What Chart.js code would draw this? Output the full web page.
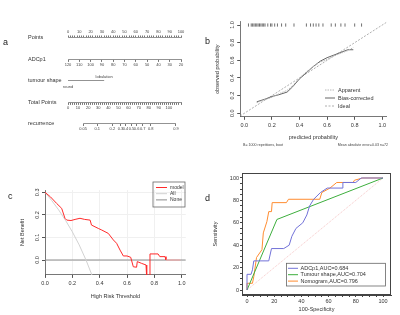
<!DOCTYPE html>
<html>
<head>
<meta charset="utf-8">
<title>Nomogram, calibration, decision curve and ROC</title>
<script src="https://cdn.jsdelivr.net/npm/chart.js@4.4.1/dist/chart.umd.min.js"></script>
<style>
  body { margin:0; background:#fff; width:400px; height:315px; position:relative; overflow:hidden; font-family:'Liberation Sans', Arial, sans-serif; }
  canvas { position:absolute; }
  .tag { position:absolute; font-size:9px; color:#222; line-height:9px; }
  .note { position:absolute; font-size:3.6px; color:#444; white-space:nowrap; line-height:4px; }
</style>
</head>
<body>
<canvas id="nomo" width="200" height="150" style="left:0;top:0"></canvas>
<canvas id="calib" width="200" height="150" style="left:200px;top:0"></canvas>
<canvas id="dca" width="200" height="165" style="left:0;top:150px"></canvas>
<canvas id="roc" width="200" height="165" style="left:200px;top:150px"></canvas>
<div class="tag" style="left:3px;top:38px">a</div>
<div class="tag" style="left:205px;top:37px">b</div>
<div class="tag" style="left:8px;top:192px">c</div>
<div class="tag" style="left:205px;top:194px">d</div>
<div class="note" style="left:243px;top:143px">B= 1000 repetitions, boot</div>
<div class="note" style="right:12px;top:143px">Mean absolute error=0.03 n=72</div>
<script>
// ---- a: nomogram ----
var rowNames = ['Points', 'ADCp1', 'tumour shape', 'Total Points', 'recurrence'];
var pointsLabels = [0, 10, 20, 30, 40, 50, 60, 70, 80, 90, 100];
var adcLabels = [120, 110, 100, 90, 80, 70, 60, 50, 40, 30, 20];
var shapeLevels = ['round', 'lobulation'];
var shapePoints = [0, 32];
var totalLabels = [0, 10, 20, 30, 40, 50, 60, 70, 80, 90, 100];
var totalMax = 112;
var recurrenceLabels = ['0.05', '0.1', '0.2', '0.3', '0.4', '0.5', '0.6', '0.7', '0.8', '0.9'];
var recurrencePoints = [15, 29, 44, 52, 57, 63, 68, 74, 82, 107];

// ---- b: calibration ----
var calibPred = [0.09, 0.15, 0.2, 0.25, 0.31, 0.35, 0.4, 0.45, 0.5, 0.55, 0.6, 0.65, 0.7, 0.75, 0.79];
var biasObs = [0.13, 0.16, 0.19, 0.21, 0.24, 0.3, 0.39, 0.46, 0.53, 0.59, 0.63, 0.66, 0.69, 0.72, 0.72];
var apparentObs = [0.12, 0.155, 0.18, 0.22, 0.26, 0.31, 0.4, 0.47, 0.53, 0.58, 0.61, 0.65, 0.68, 0.71, 0.745];
var rugPred = [0.03, 0.05, 0.06, 0.07, 0.08, 0.09, 0.1, 0.11, 0.12, 0.13, 0.14, 0.15, 0.17, 0.19, 0.2, 0.22, 0.24,
               0.27, 0.3, 0.36, 0.45, 0.48, 0.5, 0.52, 0.54, 0.57, 0.63, 0.66, 0.7, 0.73, 0.8, 0.85];

// ---- c: decision curve ----
var dcaThreshold = [0, 0.04, 0.085, 0.122, 0.146, 0.159, 0.19, 0.22, 0.256, 0.29, 0.33, 0.34, 0.39, 0.415, 0.463, 0.5, 0.524,
                    0.549, 0.573, 0.6, 0.627, 0.646, 0.67, 0.675, 0.707, 0.739, 0.744, 0.766, 0.768, 0.827, 0.84, 0.878, 0.885, 0.99];
var dcaModel = [0.3, 0.28, 0.251, 0.229, 0.185, 0.177, 0.175, 0.18, 0.185, 0.18, 0.177, 0.155, 0.14, 0.133, 0.118, 0.089, 0.074,
                0.044, 0.018, 0.018, 0.012, -0.03, -0.032, -0.007, -0.015, -0.022, -0.08, -0.08, 0.027, 0.027, 0.015, 0.015, 0, 0];
var allThreshold = [0, 0.05, 0.1, 0.15, 0.2, 0.25, 0.3, 0.35];
var allBenefit = [0.3, 0.263, 0.222, 0.176, 0.125, 0.067, 0, -0.077];

// ---- d: ROC ----
var adcFpr = [0, 0, 3, 4, 5, 16, 18, 27, 31, 33, 36, 41, 44, 46, 49, 54, 59, 70.5, 70.5, 80, 84, 100];
var adcTpr = [0, 14, 14, 18, 26, 26, 37, 37, 40, 48, 55, 60, 67, 75, 81, 87, 91, 91, 96, 96, 100, 100];
var shapeFpr = [0, 22, 100];
var shapeTpr = [0, 63, 100];
var nomoFpr = [0, 0, 4, 5, 7, 11, 12, 14.6, 16, 18, 18.5, 29, 30.5, 53.5, 55, 61, 66, 78, 79, 85, 100];
var nomoTpr = [0, 6, 6, 12, 29, 36, 51, 61, 70, 70, 78, 78, 81, 81, 87, 91, 96, 96, 98, 100, 100];
var rocNames = ['ADCp1,AUC=0.684', 'Tumour shape,AUC=0.704', 'Nomogram,AUC=0.796'];

Chart.defaults.font.family = "'Liberation Sans', Arial, sans-serif";
Chart.defaults.color = '#333';
Chart.defaults.animation = false;
Chart.defaults.events = [];
Chart.defaults.plugins.legend.display = false;
Chart.defaults.plugins.tooltip.enabled = false;

function xy(xs, ys) { return xs.map(function (x, i) { return {x: x, y: ys[i]}; }); }
function fixedTicks(values) { return function (s) { s.ticks = values.map(function (v) { return {value: v}; }); }; }
function range(a, b, step) { var r = []; for (var v = a; v <= b + 1e-9; v += step) r.push(+v.toFixed(4)); return r; }

function legendBox(cfg) {
  return {
    id: 'legendBox',
    afterDraw: function (chart) {
      var ctx = chart.ctx;
      ctx.save();
      if (cfg.box) {
        ctx.strokeStyle = cfg.boxColor; ctx.lineWidth = 0.8;
        ctx.strokeRect(cfg.box[0], cfg.box[1], cfg.box[2], cfg.box[3]);
      }
      ctx.font = cfg.font + "px 'Liberation Sans', Arial";
      ctx.textBaseline = 'middle';
      cfg.items.forEach(function (di, k) {
        var ds = chart.data.datasets[di];
        var y = cfg.y + k * cfg.dy;
        ctx.strokeStyle = ds.legendColor || ds.borderColor;
        ctx.lineWidth = ds.borderWidth;
        ctx.setLineDash(ds.borderDash || []);
        ctx.beginPath(); ctx.moveTo(cfg.x, y); ctx.lineTo(cfg.x + cfg.len, y); ctx.stroke();
        ctx.setLineDash([]);
        ctx.fillStyle = '#333';
        ctx.fillText(ds.label, cfg.x + cfg.len + cfg.gap, y);
      });
      ctx.restore();
    }
  };
}

// nomogram: every row is its own x scale hung on a category y scale
function nomoAxis(extra) {
  var base = {
    axis: 'x', type: 'linear',
    ticks: { autoSkip: false, maxRotation: 0, minRotation: 0, font: {size: 4}, color: '#444', padding: 1 },
    grid: { drawOnChartArea: false, tickLength: 2, color: '#777' },
    border: { color: '#777', width: 0.8 }
  };
  return Object.assign(base, extra);
}

var shapeText = {
  id: 'shapeText',
  afterDatasetsDraw: function (chart) {
    var ctx = chart.ctx, xs = chart.scales.xPts, ys = chart.scales.y;
    var row = ys.getPixelForValue(rowNames.indexOf('tumour shape'));
    ctx.save();
    ctx.font = "4px 'Liberation Sans', Arial";
    ctx.fillStyle = '#444'; ctx.textAlign = 'center'; ctx.textBaseline = 'middle';
    shapeLevels.forEach(function (name, i) {
      ctx.fillText(name, xs.getPixelForValue(shapePoints[i]), row + (i % 2 === 0 ? 6 : -4));
    });
    ctx.restore();
  }
};

new Chart(document.getElementById('nomo'), {
  type: 'scatter',
  data: {
    datasets: [
      { data: shapePoints.map(function (p) { return {x: p, y: 'tumour shape'}; }), xAxisID: 'xPts', yAxisID: 'y',
        showLine: true, borderColor: '#777', borderWidth: 0.8, pointRadius: 0 },
      { data: [{x: recurrencePoints[0], y: 'recurrence'}, {x: recurrencePoints[recurrencePoints.length - 1], y: 'recurrence'}],
        xAxisID: 'xRec', yAxisID: 'y', showLine: true, borderColor: '#777', borderWidth: 0.8, pointRadius: 0 }
    ]
  },
  options: {
    responsive: false,
    layout: { padding: { left: 28, right: 19, top: 27.5, bottom: 26.5 } },
    scales: {
      y: { type: 'category', labels: rowNames, offset: false,
           grid: { display: false }, border: { display: false },
           ticks: { crossAlign: 'far', font: {size: 5.5}, color: '#333', padding: 0 },
           afterFit: function (s) { s.width = 40; } },
      xPts: nomoAxis({ position: 'top', min: 0, max: 100,
           afterBuildTicks: fixedTicks(range(0, 100, 2)),
           afterFit: function (s) { s.height = 10; },
           ticks: { autoSkip: false, maxRotation: 0, minRotation: 0, font: {size: 4}, color: '#444', padding: 1,
                    callback: function (v) { return pointsLabels.indexOf(v) >= 0 ? String(v) : ''; } } }),
      xAdc: nomoAxis({ position: {y: 'ADCp1'}, min: 20, max: 120, reverse: true,
           afterBuildTicks: fixedTicks(adcLabels) }),
      xTot: nomoAxis({ position: {y: 'Total Points'}, min: 0, max: totalMax,
           afterBuildTicks: fixedTicks(range(0, 112, 2)),
           ticks: { autoSkip: false, maxRotation: 0, minRotation: 0, font: {size: 4}, color: '#444', padding: 1,
                    callback: function (v) { return totalLabels.indexOf(v) >= 0 ? String(v) : ''; } } }),
      xRec: nomoAxis({ position: {y: 'recurrence'}, min: 0, max: totalMax,
           afterBuildTicks: fixedTicks(recurrencePoints),
           border: { display: false },
           ticks: { autoSkip: false, maxRotation: 0, minRotation: 0, font: {size: 4}, color: '#444', padding: 1,
                    callback: function (v, i) { return recurrenceLabels[i]; } } })
    }
  },
  plugins: [shapeText]
});

// calibration curve
new Chart(document.getElementById('calib'), {
  type: 'scatter',
  data: {
    datasets: [
      { label: 'Apparent', data: xy(calibPred, apparentObs), showLine: true, borderColor: '#b8b8b8', borderWidth: 1,
        borderDash: [1.5, 1], pointRadius: 0 },
      { label: 'Bias-corrected', data: xy(calibPred, biasObs), showLine: true, borderColor: '#555', borderWidth: 0.9, pointRadius: 0 },
      { label: 'Ideal', data: [{x: -0.03, y: -0.03}, {x: 1.03, y: 1.03}], showLine: true, borderColor: '#9a9a9a', borderWidth: 0.8,
        borderDash: [2, 1.5], pointRadius: 0 },
      { label: 'rug', data: rugPred.map(function (p) { return {x: p, y: 1.0}; }), pointStyle: 'line', rotation: 90,
        pointRadius: 1.6, borderColor: '#333', borderWidth: 0.7 }
    ]
  },
  options: {
    responsive: false,
    layout: { padding: { left: 0, right: 13.6, top: 21.5, bottom: 0 } },
    scales: {
      x: { min: -0.03, max: 1.03, afterBuildTicks: fixedTicks([0, 0.2, 0.4, 0.6, 0.8, 1.0]),
           afterFit: function (s) { s.height = 33.2; },
           grid: { drawOnChartArea: false, tickLength: 3, color: '#555' }, border: { color: '#555', width: 0.8 },
           ticks: { font: {size: 5.5}, padding: 2, maxRotation: 0, callback: function (v) { return v.toFixed(1); } },
           title: { display: true, text: 'predicted probability', font: {size: 5.5}, color: '#333', padding: {top: 0, bottom: 9.4} } },
      y: { min: -0.04, max: 1.04, afterBuildTicks: fixedTicks([0, 0.2, 0.4, 0.6, 0.8, 1.0]),
           afterFit: function (s) { s.width = 40.2; },
           grid: { drawOnChartArea: false, tickLength: 3, color: '#555' }, border: { color: '#555', width: 0.8 },
           ticks: { font: {size: 5.5}, padding: 1, minRotation: 90, maxRotation: 90, crossAlign: 'center',
                    callback: function (v) { return v.toFixed(1); } },
           title: { display: true, text: 'observed probability', font: {size: 5.5}, color: '#333', padding: {top: 14.4, bottom: 0} } }
    }
  },
  plugins: [legendBox({ x: 125, y: 90, dy: 8, len: 10, gap: 3, font: 5.5, items: [0, 1, 2] })]
});

// decision curve
new Chart(document.getElementById('dca'), {
  type: 'scatter',
  data: {
    datasets: [
      { label: 'model', data: xy(dcaThreshold, dcaModel), showLine: true, borderColor: '#ff2a2a', borderWidth: 1, pointRadius: 0,
        segment: { borderColor: function (c) { return c.p0.parsed.x >= 0.885 ? '#f7a0a0' : undefined; } } },
      { label: 'All', data: xy(allThreshold, allBenefit), showLine: true, borderColor: '#d2d2d2', borderWidth: 1, pointRadius: 0 },
      { label: 'None', data: [{x: 0, y: 0}, {x: 1.03, y: 0}], showLine: true, borderColor: '#8c8c8c', borderWidth: 1, pointRadius: 0 }
    ]
  },
  options: {
    responsive: false,
    layout: { padding: { left: 0, right: 14.2, top: 40.1, bottom: 0 } },
    scales: {
      x: { min: 0, max: 1.03, afterBuildTicks: fixedTicks([0, 0.2, 0.4, 0.6, 0.8, 1.0]),
           afterFit: function (s) { s.height = 40.1; },
           grid: { color: '#f0f0f0', tickColor: '#555', tickLength: 3 }, border: { color: '#555', width: 0.8 },
           ticks: { font: {size: 5.5}, padding: 2, maxRotation: 0, callback: function (v) { return v.toFixed(1); } },
           title: { display: true, text: 'High Risk Threshold', font: {size: 5.5}, color: '#333', padding: {top: 0, bottom: 15.7} } },
      y: { min: -0.066, max: 0.31, afterBuildTicks: fixedTicks([0, 0.1, 0.2, 0.3]),
           afterFit: function (s) { s.width = 45; },
           grid: { color: '#f0f0f0', tickColor: '#555', tickLength: 3 }, border: { color: '#555', width: 0.8 },
           ticks: { font: {size: 5.5}, padding: 1, minRotation: 90, maxRotation: 90, crossAlign: 'center',
                    callback: function (v) { return v.toFixed(1); } },
           title: { display: true, text: 'Net Benefit', font: {size: 5.5}, color: '#333', padding: {top: 18.7, bottom: 0} } }
    }
  },
  plugins: [legendBox({ box: [153, 32, 32, 25], boxColor: '#666', x: 156, y: 37.5, dy: 6.2, len: 11, gap: 3, font: 5, items: [0, 1, 2] })]
});

// ROC curves
var frame = {
  id: 'frame',
  afterDatasetsDraw: function (chart) {
    var a = chart.chartArea, ctx = chart.ctx;
    ctx.save(); ctx.strokeStyle = '#444'; ctx.lineWidth = 1;
    ctx.strokeRect(Math.round(a.left) + 0.5, Math.round(a.top) + 0.5, Math.round(a.right - a.left) - 1, Math.round(a.bottom - a.top) - 1);
    ctx.restore();
  }
};

new Chart(document.getElementById('roc'), {
  type: 'scatter',
  data: {
    datasets: [
      { label: rocNames[0], data: xy(adcFpr, adcTpr), showLine: true, borderColor: '#7272d8', borderWidth: 1, pointRadius: 0 },
      { label: rocNames[1], data: xy(shapeFpr, shapeTpr), showLine: true, borderColor: '#3dae3d', borderWidth: 1, pointRadius: 0 },
      { label: rocNames[2], data: xy(nomoFpr, nomoTpr), showLine: true, borderColor: '#ff8c30', borderWidth: 1, pointRadius: 0 },
      { label: 'ref', data: [{x: 0, y: 0}, {x: 100, y: 100}], showLine: true, borderColor: '#f2b8b8', borderWidth: 0.8,
        borderDash: [1, 1], pointRadius: 0 }
    ]
  },
  options: {
    responsive: false,
    layout: { padding: { left: 0, right: 9, top: 23, bottom: 0 } },
    scales: {
      x: { min: -3.68, max: 105.88, afterBuildTicks: fixedTicks(range(0, 100, 5)),
           afterFit: function (s) { s.height = 20; },
           grid: { drawOnChartArea: false, tickLength: 2, color: '#444' }, border: { color: '#444' },
           ticks: { autoSkip: false, font: {size: 5.5}, padding: 1, maxRotation: 0,
                    callback: function (v) { return v % 20 === 0 ? String(v) : ''; } },
           title: { display: true, text: '100-Specificity', font: {size: 5.5}, color: '#333', padding: {top: 0, bottom: 2.7} } },
      y: { min: -4.46, max: 104.46, afterBuildTicks: fixedTicks(range(0, 100, 5)),
           afterFit: function (s) { s.width = 42; },
           grid: { drawOnChartArea: false, tickLength: 2, color: '#444' }, border: { color: '#444' },
           ticks: { autoSkip: false, font: {size: 5.5}, padding: 1,
                    callback: function (v) { return v % 20 === 0 ? String(v) : ''; } },
           title: { display: true, text: 'Sensitivity', font: {size: 5.5}, color: '#333', padding: {top: 11.7, bottom: 0} } }
    }
  },
  plugins: [frame, legendBox({ box: [86.5, 113.3, 99, 22.7], boxColor: '#666', x: 88, y: 118.3, dy: 6.4, len: 10, gap: 2.5, font: 5.5, items: [0, 1, 2] })]
});
</script>
</body>
</html>
